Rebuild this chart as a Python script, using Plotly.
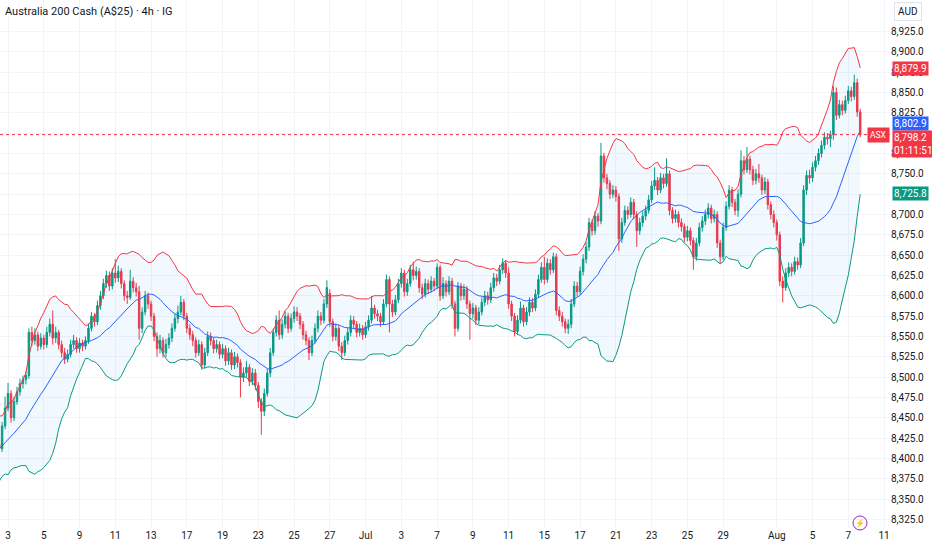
"""
ASX 200 cash 4h candles with bollinger bands (20, 2)
"""
import numpy as np
import pandas as pd
import plotly.graph_objects as go

# 4h bars, 6 per trading day, first row = May 28 (bar index -24), Jun 3 = bar 0
opens = [
    8360, 8365, 8372, 8368, 8378, 8388,  # May 28
    8384, 8395, 8402, 8398, 8410, 8418,  # May 29
    8412, 8422, 8430, 8424, 8434, 8440,  # May 30
    8432, 8438, 8428, 8418, 8412, 8440,  # Jun 2
    8462, 8480, 8450, 8470, 8482, 8492,  # Jun 3
    8497, 8502, 8555, 8545, 8552, 8538,  # Jun 4
    8548, 8540, 8555, 8565, 8548, 8555,  # Jun 5
    8540, 8530, 8522, 8528, 8540, 8545,  # Jun 6
    8535, 8542, 8538, 8545, 8560, 8575,  # Jun 9
    8568, 8588, 8600, 8615, 8625, 8612,  # Jun 10
    8628, 8622, 8630, 8615, 8600, 8598,  # Jun 11
    8618, 8610, 8605, 8560, 8580, 8600,  # Jun 12
    8590, 8575, 8550, 8535, 8545, 8530,  # Jun 13
    8540, 8548, 8560, 8572, 8580, 8592,  # Jun 16
    8575, 8560, 8552, 8545, 8530, 8540,  # Jun 17
    8515, 8530, 8550, 8545, 8535, 8540,  # Jun 18
    8528, 8535, 8520, 8530, 8515, 8525,  # Jun 19
    8518, 8500, 8505, 8512, 8495, 8505,  # Jun 20
    8490, 8470, 8458, 8480, 8505, 8530,  # Jun 23
    8555, 8570, 8552, 8565, 8575, 8560,  # Jun 24
    8572, 8580, 8575, 8565, 8552, 8545,  # Jun 25
    8530, 8545, 8560, 8575, 8570, 8590,  # Jun 26
    8603, 8568, 8550, 8560, 8538, 8530,  # Jun 27
    8545, 8555, 8570, 8565, 8555, 8560,  # Jun 30
    8552, 8562, 8570, 8585, 8578, 8575,  # Jul 1
    8568, 8590, 8620, 8590, 8580, 8595,  # Jul 2
    8615, 8628, 8605, 8615, 8632, 8625,  # Jul 3
    8630, 8610, 8602, 8615, 8608, 8618,  # Jul 4
    8612, 8635, 8600, 8615, 8605, 8618,  # Jul 7
    8590, 8560, 8612, 8600, 8608, 8590,  # Jul 8
    8578, 8585, 8570, 8580, 8592, 8600,  # Jul 9
    8595, 8610, 8622, 8618, 8632, 8640,  # Jul 10
    8628, 8590, 8575, 8556, 8570, 8585,  # Jul 11
    8568, 8580, 8592, 8585, 8602, 8620,  # Jul 14
    8635, 8620, 8640, 8632, 8648, 8582,  # Jul 15
    8575, 8568, 8560, 8565, 8590, 8612,  # Jul 16
    8605, 8630, 8645, 8660, 8690, 8680,  # Jul 17
    8698, 8692, 8772, 8745, 8738, 8725,  # Jul 18
    8730, 8722, 8670, 8690, 8705, 8700,  # Jul 21
    8715, 8700, 8680, 8690, 8698, 8705,  # Jul 22
    8718, 8735, 8742, 8730, 8745, 8738,  # Jul 23
    8750, 8705, 8695, 8700, 8690, 8685,  # Jul 24
    8672, 8680, 8668, 8648, 8665, 8684,  # Jul 25
    8692, 8700, 8708, 8695, 8700, 8665,  # Jul 28
    8648, 8684, 8710, 8730, 8715, 8705,  # Jul 29
    8725, 8766, 8755, 8768, 8755, 8742,  # Jul 30
    8750, 8745, 8730, 8740, 8712, 8700,  # Jul 31
    8690, 8675, 8618, 8610, 8628, 8635,  # Aug 1
    8630, 8642, 8638, 8665, 8730, 8748,  # Aug 4
    8745, 8758, 8766, 8775, 8785, 8795,  # Aug 5
    8793, 8798, 8850, 8822, 8835, 8828,  # Aug 6
    8840, 8852, 8845, 8862, 8826,        # Aug 7
]
highs = [
    8370, 8378, 8376, 8383, 8394, 8393,
    8400, 8408, 8407, 8416, 8424, 8422,
    8428, 8436, 8434, 8440, 8446, 8444,
    8443, 8441, 8431, 8422, 8445, 8476,
    8493, 8484, 8476, 8488, 8498, 8502,
    8507, 8560, 8562, 8560, 8556, 8554,
    8552, 8562, 8572, 8582, 8562, 8558,
    8545, 8536, 8534, 8546, 8552, 8549,
    8548, 8546, 8550, 8566, 8580, 8579,
    8594, 8606, 8621, 8631, 8630, 8634,
    8645, 8637, 8634, 8619, 8606, 8632,
    8623, 8616, 8612, 8586, 8606, 8604,
    8594, 8579, 8555, 8552, 8549, 8547,
    8554, 8566, 8578, 8588, 8600, 8596,
    8579, 8565, 8557, 8549, 8546, 8544,
    8536, 8556, 8555, 8549, 8546, 8544,
    8541, 8539, 8536, 8534, 8531, 8529,
    8522, 8512, 8520, 8516, 8511, 8510,
    8494, 8474, 8486, 8510, 8536, 8560,
    8576, 8582, 8571, 8581, 8579, 8578,
    8587, 8586, 8579, 8569, 8557, 8549,
    8551, 8566, 8582, 8580, 8596, 8619,
    8608, 8572, 8566, 8564, 8543, 8551,
    8561, 8576, 8575, 8569, 8566, 8564,
    8568, 8576, 8600, 8589, 8583, 8579,
    8596, 8626, 8624, 8595, 8601, 8621,
    8634, 8632, 8621, 8638, 8642, 8636,
    8634, 8615, 8621, 8620, 8624, 8622,
    8640, 8638, 8623, 8619, 8624, 8622,
    8594, 8617, 8616, 8614, 8612, 8594,
    8591, 8589, 8586, 8598, 8606, 8605,
    8616, 8628, 8627, 8638, 8646, 8644,
    8635, 8594, 8579, 8576, 8593, 8589,
    8586, 8598, 8597, 8608, 8626, 8641,
    8648, 8646, 8645, 8653, 8652, 8587,
    8580, 8572, 8571, 8596, 8618, 8617,
    8636, 8651, 8666, 8696, 8694, 8704,
    8702, 8788, 8776, 8750, 8742, 8736,
    8735, 8726, 8696, 8711, 8710, 8721,
    8719, 8704, 8696, 8704, 8711, 8724,
    8741, 8758, 8746, 8751, 8750, 8769,
    8754, 8709, 8706, 8704, 8695, 8689,
    8686, 8684, 8672, 8671, 8690, 8698,
    8706, 8714, 8712, 8706, 8704, 8669,
    8690, 8716, 8736, 8734, 8719, 8731,
    8779, 8772, 8783, 8772, 8760, 8756,
    8762, 8749, 8746, 8744, 8716, 8705,
    8694, 8679, 8624, 8634, 8641, 8640,
    8648, 8647, 8671, 8736, 8754, 8755,
    8764, 8772, 8781, 8791, 8801, 8800,
    8803, 8858, 8856, 8841, 8840, 8846,
    8858, 8857, 8872, 8867, 8830,
]
lows = [
    8355, 8360, 8362, 8364, 8374, 8378,
    8380, 8390, 8392, 8394, 8405, 8406,
    8408, 8417, 8418, 8420, 8429, 8426,
    8427, 8422, 8412, 8403, 8408, 8436,
    8458, 8444, 8446, 8466, 8477, 8486,
    8491, 8498, 8538, 8540, 8532, 8534,
    8534, 8536, 8550, 8540, 8542, 8534,
    8524, 8516, 8518, 8524, 8535, 8530,
    8530, 8532, 8534, 8541, 8556, 8562,
    8564, 8583, 8596, 8610, 8606, 8608,
    8616, 8617, 8609, 8594, 8590, 8595,
    8604, 8599, 8546, 8554, 8576, 8584,
    8569, 8544, 8525, 8529, 8524, 8525,
    8535, 8543, 8556, 8566, 8576, 8570,
    8554, 8546, 8538, 8524, 8526, 8509,
    8511, 8526, 8539, 8529, 8530, 8522,
    8523, 8514, 8515, 8509, 8510, 8512,
    8475, 8494, 8500, 8489, 8490, 8484,
    8462, 8429, 8452, 8476, 8500, 8526,
    8550, 8546, 8547, 8560, 8554, 8556,
    8567, 8569, 8559, 8546, 8539, 8521,
    8526, 8541, 8555, 8564, 8566, 8585,
    8562, 8544, 8545, 8532, 8521, 8526,
    8540, 8550, 8559, 8549, 8550, 8546,
    8548, 8557, 8566, 8572, 8569, 8562,
    8564, 8586, 8555, 8574, 8576, 8591,
    8610, 8599, 8600, 8611, 8619, 8620,
    8604, 8596, 8598, 8602, 8604, 8606,
    8608, 8594, 8596, 8599, 8601, 8584,
    8550, 8556, 8594, 8595, 8584, 8546,
    8572, 8564, 8565, 8576, 8587, 8589,
    8591, 8605, 8612, 8614, 8627, 8622,
    8584, 8569, 8550, 8552, 8566, 8562,
    8564, 8575, 8580, 8581, 8598, 8616,
    8614, 8616, 8626, 8628, 8576, 8569,
    8562, 8554, 8553, 8560, 8586, 8599,
    8601, 8625, 8640, 8655, 8674, 8675,
    8685, 8688, 8739, 8731, 8719, 8720,
    8716, 8655, 8665, 8686, 8694, 8696,
    8694, 8660, 8675, 8685, 8693, 8701,
    8714, 8730, 8724, 8726, 8732, 8734,
    8699, 8689, 8690, 8684, 8679, 8666,
    8667, 8662, 8632, 8643, 8661, 8679,
    8687, 8695, 8689, 8690, 8659, 8640,
    8644, 8680, 8706, 8709, 8699, 8697,
    8721, 8749, 8751, 8749, 8736, 8737,
    8739, 8724, 8725, 8706, 8694, 8684,
    8668, 8612, 8592, 8606, 8623, 8624,
    8626, 8632, 8634, 8661, 8724, 8738,
    8740, 8753, 8761, 8770, 8780, 8786,
    8783, 8792, 8816, 8818, 8822, 8824,
    8836, 8839, 8841, 8820, 8795,
]
closes = [
    8365, 8372, 8368, 8378, 8388, 8384,
    8395, 8402, 8398, 8410, 8418, 8412,
    8422, 8430, 8424, 8434, 8440, 8432,
    8438, 8428, 8418, 8412, 8440, 8462,
    8480, 8450, 8470, 8482, 8492, 8497,
    8502, 8555, 8545, 8552, 8538, 8548,
    8540, 8555, 8565, 8548, 8555, 8540,
    8530, 8522, 8528, 8540, 8545, 8535,
    8542, 8538, 8545, 8560, 8575, 8568,
    8588, 8600, 8615, 8625, 8612, 8628,
    8622, 8630, 8615, 8600, 8598, 8618,
    8610, 8605, 8560, 8580, 8600, 8590,
    8575, 8550, 8535, 8545, 8530, 8540,
    8548, 8560, 8572, 8580, 8592, 8575,
    8560, 8552, 8545, 8530, 8540, 8515,
    8530, 8550, 8545, 8535, 8540, 8528,
    8535, 8520, 8530, 8515, 8525, 8518,
    8500, 8505, 8512, 8495, 8505, 8490,
    8470, 8458, 8480, 8505, 8530, 8555,
    8570, 8552, 8565, 8575, 8560, 8572,
    8580, 8575, 8565, 8552, 8545, 8530,
    8545, 8560, 8575, 8570, 8590, 8610,
    8568, 8550, 8560, 8538, 8530, 8545,
    8555, 8570, 8565, 8555, 8560, 8552,
    8562, 8570, 8585, 8578, 8575, 8568,
    8590, 8620, 8590, 8580, 8595, 8615,
    8628, 8605, 8615, 8632, 8625, 8630,
    8610, 8602, 8615, 8608, 8618, 8612,
    8635, 8600, 8615, 8605, 8618, 8590,
    8560, 8612, 8600, 8608, 8590, 8578,
    8585, 8570, 8580, 8592, 8600, 8595,
    8610, 8622, 8618, 8632, 8640, 8628,
    8590, 8575, 8556, 8570, 8585, 8568,
    8580, 8592, 8585, 8602, 8620, 8635,
    8620, 8640, 8632, 8648, 8582, 8575,
    8568, 8560, 8565, 8590, 8612, 8605,
    8630, 8645, 8660, 8690, 8680, 8698,
    8692, 8772, 8745, 8738, 8725, 8730,
    8722, 8670, 8690, 8705, 8700, 8715,
    8700, 8680, 8690, 8698, 8705, 8718,
    8735, 8742, 8730, 8745, 8738, 8750,
    8705, 8695, 8700, 8690, 8685, 8672,
    8680, 8668, 8648, 8665, 8684, 8692,
    8700, 8708, 8695, 8700, 8665, 8648,
    8684, 8710, 8730, 8715, 8705, 8725,
    8766, 8755, 8768, 8755, 8742, 8750,
    8745, 8730, 8740, 8712, 8700, 8690,
    8675, 8618, 8610, 8628, 8635, 8630,
    8642, 8638, 8665, 8730, 8748, 8745,
    8758, 8766, 8775, 8785, 8795, 8793,
    8798, 8850, 8822, 8835, 8828, 8840,
    8852, 8845, 8862, 8826, 8798.2,
]

# values printed on the price scale of the reference
band_upper_last = 8879.9
band_basis_last = 8802.9
band_lower_last = 8725.8
countdown = "01:11:51"

# time axis labels (trading day number counted from Jun 3)
tick_days = [0, 2, 4, 6, 8, 10, 12, 14, 16, 18, 20, 22, 24, 26, 28, 30, 32,
             34, 36, 38, 40, 43, 45, 47, 49]
tick_text = ["3", "5", "9", "11", "13", "17", "19", "23", "25", "27", "Jul",
             "3", "7", "9", "11", "15", "17", "21", "23", "25", "29", "Aug",
             "5", "7", "11"]
price_ticks = list(range(8325, 8926, 25))
hidden_price_ticks = [8800, 8725]  # covered by the value boxes

UP = "#089981"
DOWN = "#F23645"
BLUE = "#2962FF"
TEXT = "#131722"
GRID = "#f2f4f9"
FONT = "Roboto, Noto Sans, sans-serif"

bars = np.arange(len(closes)) - 24
close_s = pd.Series(closes, dtype=float)
basis = close_s.rolling(20).mean()
dev = close_s.rolling(20).std(ddof=0)
upper = basis + 2 * dev
lower = basis - 2 * dev
last = closes[-1]

fig = go.Figure()
fig.add_trace(go.Scatter(x=bars, y=upper, mode="lines",
                         line=dict(color=DOWN, width=1), hoverinfo="skip"))
fig.add_trace(go.Scatter(x=bars, y=lower, mode="lines", fill="tonexty",
                         fillcolor="rgba(33,150,243,0.06)",
                         line=dict(color=UP, width=1), hoverinfo="skip"))
fig.add_trace(go.Scatter(x=bars, y=basis, mode="lines",
                         line=dict(color=BLUE, width=1), hoverinfo="skip"))
fig.add_trace(go.Candlestick(
    x=bars, open=opens, high=highs, low=lows, close=closes,
    increasing=dict(line=dict(color=UP, width=1), fillcolor=UP),
    decreasing=dict(line=dict(color=DOWN, width=1), fillcolor=DOWN),
    whiskerwidth=0, hoverinfo="skip"))

# last price line
fig.add_shape(type="line", xref="paper", x0=0, x1=1, y0=last, y1=last,
              line=dict(color=DOWN, width=1, dash="dot"))

price_text = ["" if p in hidden_price_ticks else "{:,.1f}".format(p)
              for p in price_ticks]
layout_font = dict(family=FONT, size=10, color=TEXT)
fig.update_layout(
    width=932, height=550,
    margin=dict(l=0, r=42, t=0, b=22),
    paper_bgcolor="white", plot_bgcolor="white",
    showlegend=False, font=layout_font,
    xaxis=dict(range=[-2.7, 296], tickvals=[d * 6 for d in tick_days],
               ticktext=tick_text, showgrid=True, gridcolor=GRID,
               zeroline=False, ticks="", rangeslider=dict(visible=False),
               tickfont=layout_font),
    yaxis=dict(side="right", range=[8314.5, 8963.7], tickvals=price_ticks,
               ticktext=price_text, showgrid=True, gridcolor=GRID,
               zeroline=False, ticks="", tickfont=layout_font),
)

# title and currency
fig.add_annotation(text="Australia 200 Cash (A$25) · 4h · IG", xref="paper",
                   yref="paper", x=0, y=1, xanchor="left", yanchor="top",
                   xshift=3, yshift=-3, showarrow=False,
                   font=dict(family=FONT, size=11, color=TEXT))
fig.add_annotation(text="AUD", xref="paper", yref="paper", x=1, y=1,
                   xanchor="left", yanchor="top", xshift=4, yshift=-2,
                   showarrow=False, bordercolor="#e0e3eb", borderwidth=1,
                   borderpad=3, font=dict(family=FONT, size=10, color=TEXT))

# price scale labels
labels = [
    (band_upper_last, DOWN, 0),
    (band_basis_last, BLUE, 7),
    (band_lower_last, UP, 0),
]
for y, color, shift in labels:
    fig.add_annotation(text="{:,.1f}".format(y), xref="paper", yref="y",
                       x=1, y=y, xanchor="left", yanchor="middle", xshift=2,
                       yshift=shift, showarrow=False, bgcolor=color,
                       borderpad=1, font=dict(family=FONT, size=10,
                                              color="white"))
fig.add_annotation(text="{:,.1f}<br>{}".format(last, countdown),
                   xref="paper", yref="y", x=1, y=last, xanchor="left",
                   yanchor="top", xshift=2, yshift=5, showarrow=False,
                   bgcolor=DOWN, borderpad=1, align="left",
                   font=dict(family=FONT, size=10, color="white"))
fig.add_annotation(text="ASX", xref="paper", yref="y", x=1, y=last,
                   xanchor="right", yanchor="middle", xshift=0,
                   showarrow=False, bgcolor=DOWN, borderpad=2,
                   font=dict(family=FONT, size=8.5, color="white"))

# small lightning badge at the bottom
fig.add_shape(type="circle", xref="paper", yref="paper", xsizemode="pixel",
              ysizemode="pixel", xanchor=860 / 890, yanchor=5 / 528,
              x0=-7, x1=7, y0=-7, y1=7, line=dict(color="#9c27b0", width=1))
fig.add_annotation(text="⚡", xref="paper", yref="paper", x=860 / 890,
                   y=5 / 528, xanchor="center", yanchor="middle",
                   showarrow=False, font=dict(size=8, color="#9c27b0"))

fig.write_html("out.html", config={"displayModeBar": False},
               post_script="document.body.style.margin='0';")
